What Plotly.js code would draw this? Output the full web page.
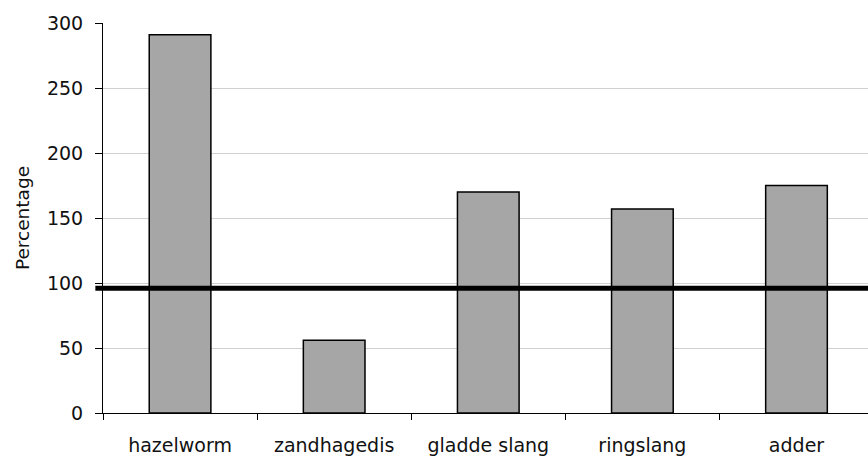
<!DOCTYPE html>
<html>
<head>
<meta charset="utf-8">
<script src="https://cdn.plot.ly/plotly-3.0.1.min.js"></script>
<style>html,body{margin:0;padding:0;background:#fff;}</style>
</head>
<body>
<div id="chart" style="width:868px;height:457px;"></div>
<script>
const categories = ["hazelworm", "zandhagedis", "gladde slang", "ringslang", "adder"];
const percentages = [291, 56, 170, 157, 175];
const referenceLevel = 96;
const yTicks = [0, 50, 100, 150, 200, 250, 300];

const trace = {
  type: "bar",
  x: categories,
  y: percentages,
  marker: {color: "#a6a6a6", line: {color: "#000", width: 1.5}},
  hoverinfo: "x+y"
};

const layout = {
  width: 868, height: 457,
  margin: {l: 103, r: 0, t: 23, b: 44},
  paper_bgcolor: "#fff", plot_bgcolor: "#fff",
  font: {family: "DejaVu Sans, Verdana, sans-serif", size: 19, color: "#111"},
  showlegend: false,
  bargap: 0.6,
  xaxis: {
    type: "category",
    range: [-0.5, 4.464],
    showline: true, linecolor: "#000", linewidth: 1,
    ticks: "outside", tickson: "boundaries", ticklen: 6, tickcolor: "#000",
    showgrid: false, zeroline: false,
    ticklabelstandoff: 15
  },
  yaxis: {
    range: [0, 300],
    tickvals: yTicks,
    showline: true, linecolor: "#000", linewidth: 1,
    ticks: "outside", ticklen: 7, tickcolor: "#000",
    showgrid: true, gridcolor: "#d0d0d0", gridwidth: 1,
    zeroline: false,
    ticklabelstandoff: 8,
    title: {text: "Percentage", font: {size: 18.5}, standoff: 12}
  },
  shapes: [{
    type: "line", xref: "paper", yref: "y",
    x0: -0.010, x1: 1, y0: referenceLevel, y1: referenceLevel,
    line: {color: "#000", width: 5}
  }]
};

Plotly.newPlot("chart", [trace], layout, {displayModeBar: false, staticPlot: true});
</script>
</body>
</html>
